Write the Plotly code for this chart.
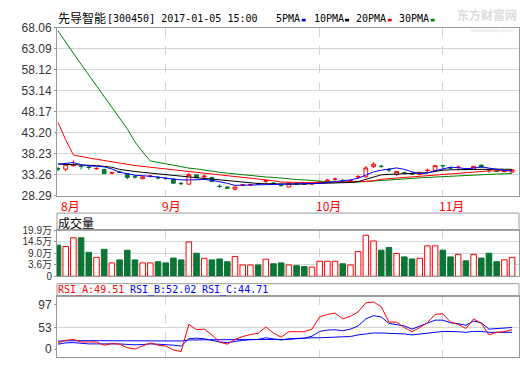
import pandas as pd
import plotly.graph_objects as go

# ---------------- data ----------------
holidays = ["2016-09-15", "2016-09-16", "2016-10-03", "2016-10-04",
            "2016-10-05", "2016-10-06", "2016-10-07"]
dates = [d for d in pd.bdate_range("2016-08-12", "2016-11-14").strftime("%Y-%m-%d")
         if d not in holidays]

opens = [34.66, 34.54, 35.37, 35.27, 35.03, 34.66, 34.46, 33.60, 33.90, 33.49,
         32.77, 32.28, 32.84, 32.55, 32.40, 32.21, 31.19, 31.00, 33.18, 32.73,
         32.58, 30.51, 30.32, 29.80, 30.72, 30.80, 31.11, 31.72, 31.26, 30.73,
         30.32, 31.10, 31.05, 31.05, 31.30, 31.53, 32.10, 31.87, 31.75, 32.69,
         32.73, 35.14, 35.26, 34.43, 33.26, 33.68, 33.45, 33.26, 34.20, 34.24,
         35.41, 34.88, 34.95, 34.60, 34.46, 35.52, 34.43, 34.13, 33.98, 33.86]
highs = [35.14, 35.80, 36.65, 35.52, 35.29, 34.99, 34.69, 33.94, 34.09, 33.56,
         33.11, 32.80, 33.18, 32.88, 32.65, 32.35, 31.53, 33.64, 33.34, 33.26,
         32.73, 31.00, 30.47, 30.40, 31.00, 31.07, 31.38, 32.13, 31.45, 31.00,
         31.30, 31.30, 31.20, 31.38, 31.68, 32.28, 32.58, 32.28, 32.05, 33.18,
         35.29, 36.20, 35.59, 34.84, 34.01, 34.01, 33.79, 33.86, 34.69, 35.59,
         35.59, 35.14, 35.37, 34.84, 35.29, 35.59, 34.62, 34.39, 34.24, 34.46]
lows = [34.09, 34.09, 35.14, 34.46, 34.39, 34.39, 33.49, 33.34, 33.64, 32.13,
        32.28, 32.21, 32.58, 32.13, 32.13, 31.15, 30.78, 30.85, 32.43, 32.28,
        31.53, 30.10, 29.95, 29.50, 30.55, 30.62, 30.85, 31.22, 31.00, 30.47,
        30.25, 30.85, 30.85, 30.78, 31.20, 31.38, 31.68, 31.38, 31.55, 32.28,
        32.58, 34.84, 34.84, 33.86, 32.96, 33.34, 33.18, 33.18, 33.79, 34.09,
        34.24, 34.54, 34.24, 34.24, 34.39, 34.99, 33.64, 33.86, 33.79, 33.71]
closes = [34.58, 35.74, 35.59, 35.17, 34.95, 34.72, 33.49, 33.68, 33.82, 32.58,
          32.69, 32.73, 32.92, 32.47, 32.32, 31.23, 31.11, 33.26, 32.51, 32.88,
          31.60, 30.43, 30.02, 30.32, 30.85, 30.88, 31.03, 31.80, 31.18, 30.65,
          31.23, 31.02, 30.98, 31.12, 31.55, 31.98, 32.18, 31.80, 31.83, 32.77,
          34.84, 35.74, 35.18, 34.35, 34.01, 33.60, 33.38, 33.79, 34.28, 35.37,
          35.33, 34.80, 35.03, 34.52, 35.22, 34.99, 34.35, 34.05, 34.05, 34.39]

ma5 = [35.74, 35.90, 36.10, 35.60, 35.30, 35.25, 35.10, 34.60, 33.80, 33.50,
       33.10, 33.00, 32.90, 32.70, 32.40, 32.20, 32.00, 32.00, 32.05, 32.10,
       31.90, 31.60, 31.20, 30.70, 30.75, 30.80, 30.85, 30.90, 30.95, 31.00,
       31.05, 31.05, 31.08, 31.10, 31.20, 31.40, 31.60, 31.80, 32.00, 32.40,
       33.20, 33.90, 34.30, 34.60, 34.84, 34.50, 33.90, 33.50, 33.60, 34.20,
       34.60, 35.00, 34.90, 34.65, 34.80, 35.10, 34.80, 34.45, 34.25, 34.10]
ma10 = [35.74, 35.70, 35.65, 35.60, 35.50, 35.40, 35.20, 35.00, 34.50, 34.20,
        34.00, 33.80, 33.60, 33.45, 33.30, 33.10, 32.90, 32.60, 32.45, 32.35,
        32.20, 32.00, 31.85, 31.60, 31.40, 31.25, 31.15, 31.10, 31.05, 31.00,
        31.00, 31.00, 31.05, 31.10, 31.15, 31.20, 31.30, 31.35, 31.40, 31.60,
        32.10, 32.70, 33.20, 33.30, 33.40, 33.45, 33.50, 33.60, 33.70, 34.00,
        34.30, 34.40, 34.45, 34.50, 34.52, 34.54, 34.55, 34.55, 34.54, 34.50]
ma20 = [45.60, 41.50, 37.90, 37.50, 37.20, 36.90, 36.60, 36.30, 35.90, 35.60,
        35.40, 35.20, 35.00, 34.80, 34.60, 34.40, 34.20, 34.10, 33.90, 33.70,
        33.50, 33.30, 33.10, 32.90, 32.70, 32.50, 32.30, 32.00, 31.80, 31.50,
        31.40, 31.38, 31.38, 31.38, 31.40, 31.42, 31.45, 31.50, 31.53, 31.55,
        31.65, 31.80, 32.15, 32.30, 32.45, 32.60, 32.75, 32.90, 33.05, 33.20,
        33.35, 33.50, 33.60, 33.75, 33.90, 34.05, 34.12, 34.18, 34.22, 34.25]
ma30 = [67.30, 64.50, 62.00, 59.40, 56.90, 54.30, 51.80, 49.20, 46.70, 44.10,
        41.00, 38.60, 36.50, 36.10, 35.80, 35.50, 35.10, 34.80, 34.60, 34.30,
        34.00, 33.80, 33.60, 33.40, 33.20, 33.10, 32.90, 32.70, 32.60, 32.40,
        32.30, 32.10, 32.00, 31.80, 31.70, 31.60, 31.50, 31.50, 31.45, 31.50,
        31.60, 31.70, 31.80, 31.90, 32.05, 32.20, 32.35, 32.50, 32.60, 32.75,
        32.85, 32.95, 33.05, 33.15, 33.20, 33.30, 33.35, 33.40, 33.45, 33.50]

volume_wan = [13.5, 12.9, 16.7, 16.7, 10.4, 8.2, 11.7, 5.8, 7.1, 11.3,
              7.1, 5.8, 5.8, 6.3, 5.8, 7.9, 7.1, 14.9, 10.0, 7.8,
              7.1, 7.5, 6.3, 8.6, 4.9, 4.9, 4.9, 7.4, 5.4, 5.8,
              4.9, 4.6, 4.2, 4.0, 6.5, 6.5, 6.5, 5.4, 4.9, 10.7,
              17.8, 15.3, 11.3, 12.5, 9.9, 8.4, 7.5, 7.8, 13.2, 13.2,
              11.3, 8.4, 9.5, 6.7, 9.5, 7.9, 10.0, 6.3, 7.1, 8.2]

rsi_a = [19.2, 24.2, 26.1, 21.1, 21.1, 21.1, 14.8, 17.9, 16.7, 9.8,
         7.3, 12.9, 19.2, 14.8, 12.9, 5.4, 2.2, 55.7, 45.0, 46.3,
         34.9, 21.1, 16.7, 26.1, 31.8, 35.6, 38.1, 50.6, 38.7, 30.5,
         41.2, 41.2, 41.2, 46.3, 70.2, 75.2, 77.7, 66.4, 71.4, 80.2,
         97.8, 99.6, 90.3, 60.1, 60.1, 49.4, 41.2, 49.4, 58.8, 75.2,
         76.4, 60.1, 55.7, 47.5, 66.4, 57.6, 34.9, 40.0, 41.2, 45.0]
rsi_b = [16.7, 19.2, 19.8, 17.9, 17.3, 17.3, 16.7, 17.3, 17.3, 16.1,
         15.4, 16.1, 17.3, 16.7, 16.1, 14.8, 12.9, 27.4, 28.6, 27.4,
         24.2, 21.1, 19.8, 22.3, 24.2, 25.5, 26.1, 29.3, 26.8, 24.9,
         27.4, 28.6, 28.6, 32.4, 41.8, 44.4, 45.0, 43.1, 46.3, 52.5,
         66.4, 72.7, 70.2, 57.6, 55.7, 52.5, 46.3, 52.5, 58.8, 63.9,
         63.9, 58.8, 56.9, 53.8, 62.0, 58.8, 46.3, 47.5, 48.1, 49.4]
rsi_c = [23.0, 23.6, 23.6, 23.6, 23.6, 23.6, 23.6, 23.6, 23.6, 23.6,
         23.6, 23.6, 23.6, 23.6, 23.6, 23.6, 23.0, 24.9, 25.5, 25.5,
         25.5, 25.5, 25.5, 25.5, 25.5, 25.5, 25.5, 26.1, 25.5, 25.5,
         26.1, 27.4, 28.6, 29.3, 29.3, 29.9, 29.9, 30.5, 31.8, 34.9,
         36.8, 38.7, 38.7, 38.1, 38.1, 36.8, 34.9, 36.2, 38.7, 40.0,
         41.8, 41.8, 41.2, 40.0, 41.8, 41.8, 40.0, 40.0, 40.0, 40.0]

price_ticks = [68.06, 63.09, 58.12, 53.14, 48.17, 43.20, 38.23, 33.26, 28.29]
price_tick_text = ["68.06", "63.09", "58.12", "53.14", "48.17", "43.20", "38.23", "33.26", "28.29"]
vol_max = 19.9
vol_tick_text = ["0", "3.6万", "9.0万", "14.5万", "19.9万"]   # drawn at quarter steps as in the source
rsi_tick_text = ["0", "53", "97"]                          # drawn at evenly spaced positions
rsi_tick_pos = [7.2, 49.4, 94.7]
rsi_header = [("RSI_A:49.51", "#ff0000"), ("RSI_B:52.02", "#0000ff"), ("RSI_C:44.71", "#0000ff")]
ma_legend = [("5PMA", "#0000ff"), ("10PMA", "#000000"), ("20PMA", "#ff0000"), ("30PMA", "#008000")]
title_name = "先导智能"
title_rest = "[300450] 2017-01-05 15:00"
vol_title = "成交量"

# ---------------- layout helpers ----------------
W, H = 520, 365
L, R = 57, 1
PW = W - L - R


def px(x):
    return (x - L) / PW


def py(y):
    return 1 - y / H


RED = "#ff0000"
GREEN = "#0a7535"
GRID = "#d4d4d4"
BORDER = "#9a9a9a"
MONO = "DejaVu Sans Mono"
CJK = "Noto Sans CJK SC"
SANS = "Liberation Sans, Arial, Noto Sans CJK SC"

x = list(range(len(dates)))
month_idx = [i for i in x if i == 0 or dates[i][:7] != dates[i - 1][:7]]
month_text = [f"{int(dates[i][5:7])}月" for i in month_idx]
up = [c >= o for o, c in zip(opens, closes)]
vol_ticks = [vol_max * k / 4 for k in range(5)]

fig = go.Figure()

# candles
fig.add_trace(go.Candlestick(
    x=x, open=opens, high=highs, low=lows, close=closes,
    increasing=dict(line=dict(color=RED, width=1), fillcolor="white"),
    decreasing=dict(line=dict(color=GREEN, width=1), fillcolor=GREEN),
    whiskerwidth=0, xaxis="x", yaxis="y", hoverinfo="skip", showlegend=False))

for vals, col in [(ma30, "#008000"), (ma20, "#ff0000"), (ma10, "#000000"), (ma5, "#0000ff")]:
    fig.add_trace(go.Scatter(x=x, y=vals, mode="lines", line=dict(color=col, width=1),
                             xaxis="x", yaxis="y", hoverinfo="skip", showlegend=False))

# volume
fig.add_trace(go.Bar(x=[i for i in x if not up[i]], y=[volume_wan[i] for i in x if not up[i]],
                     width=0.72, marker=dict(color=GREEN, line=dict(color=GREEN, width=1)),
                     xaxis="x2", yaxis="y2", hoverinfo="skip", showlegend=False))
fig.add_trace(go.Bar(x=[i for i in x if up[i]], y=[volume_wan[i] for i in x if up[i]],
                     width=0.72, marker=dict(color="white", line=dict(color=RED, width=1)),
                     xaxis="x2", yaxis="y2", hoverinfo="skip", showlegend=False))

# RSI
for vals, col in [(rsi_c, "#0000ff"), (rsi_b, "#0000ff"), (rsi_a, "#ff0000")]:
    fig.add_trace(go.Scatter(x=x, y=vals, mode="lines", line=dict(color=col, width=1),
                             xaxis="x3", yaxis="y3", hoverinfo="skip", showlegend=False))

xrange = [-0.13, 59.9]
xcommon = dict(range=xrange, showticklabels=False, ticks="", tickvals=month_idx,
               showgrid=True, gridcolor=GRID, griddash="dash", gridwidth=1,
               showline=True, linecolor=BORDER, mirror=True, zeroline=False, domain=[0, 1],
               fixedrange=True)
ycommon = dict(showline=True, linecolor=BORDER, mirror=True, zeroline=False,
               ticks="outside", ticklen=2, tickcolor=BORDER, fixedrange=True)

fig.update_layout(
    width=W, height=H, margin=dict(l=L, r=R, t=0, b=0),
    paper_bgcolor="white", plot_bgcolor="white", showlegend=False, barmode="overlay",
    xaxis=dict(**xcommon, anchor="y", rangeslider=dict(visible=False)),
    xaxis2=dict(**xcommon, anchor="y2", matches="x"),
    xaxis3=dict(**xcommon, anchor="y3", matches="x"),
    yaxis=dict(**ycommon, domain=[py(196.1), py(21.5)], range=[28.29, 68.06],
               tickvals=price_ticks, ticktext=price_tick_text, showgrid=True, gridcolor=GRID,
               tickfont=dict(family=SANS, size=12, color="#333333")),
    yaxis2=dict(**ycommon, domain=[py(280), py(232.3)], range=[0, vol_max],
                tickvals=vol_ticks, ticktext=vol_tick_text, showgrid=True, gridcolor=GRID,
                tickfont=dict(family=SANS, size=10, color="#333333")),
    yaxis3=dict(**ycommon, domain=[py(364), py(301)], range=[-8.5, 110.4],
                tickvals=rsi_tick_pos, ticktext=rsi_tick_text, showgrid=False,
                tickfont=dict(family=SANS, size=12, color="#333333")),
)

# RSI middle reference line
fig.add_shape(type="line", xref="x3 domain", yref="y3", x0=0, x1=1,
              y0=rsi_tick_pos[1], y1=rsi_tick_pos[1],
              line=dict(color=GRID, width=1), layer="below")

# header boxes
for y0, y1 in [(214.3, 232.3), (287.7, 301)]:
    fig.add_shape(type="rect", xref="paper", yref="paper", x0=0, x1=1, y0=py(y1), y1=py(y0),
                  line=dict(color=BORDER, width=1), fillcolor="rgba(0,0,0,0)")

ann = []
# title
ann.append(dict(text=title_name, x=px(57), y=py(11), font=dict(family=CJK, size=12, color="black")))
ann.append(dict(text=title_rest, x=px(106), y=py(11.5), font=dict(family=MONO, size=10, color="black")))
# MA legend
leg_x = [275, 313, 355, 398]
sq_x = [301.7, 345, 387.7, 430.7]
for (t, c), lx, sx in zip(ma_legend, leg_x, sq_x):
    ann.append(dict(text=t, x=px(lx), y=py(11.5), font=dict(family=MONO, size=10, color="black")))
    fig.add_shape(type="rect", xref="paper", yref="paper", x0=px(sx), x1=px(sx + 4),
                  y0=py(15), y1=py(12.3), line=dict(width=0), fillcolor=c)
# watermark
ann.append(dict(text="<b>东方财富网</b>", x=px(456), y=py(8), font=dict(family=CJK, size=12, color="#dcdcdc")))
ann.append(dict(text="eastmoney.com", x=px(470), y=py(24), font=dict(family=SANS, size=6, color="#dcdcdc")))
# volume title
ann.append(dict(text=vol_title, x=px(57), y=py(224), font=dict(family=CJK, size=12, color="black")))
# RSI header
for (t, c), hx in zip(rsi_header, [57.3, 129, 200.7]):
    ann.append(dict(text=t, x=px(hx), y=py(293.8), font=dict(family=MONO, size=10, color=c)))

for a in ann:
    a.update(xref="paper", yref="paper", xanchor="left", yanchor="middle", showarrow=False,
             borderpad=0)
    fig.add_annotation(**a)

# month labels
for i, t in zip(month_idx, month_text):
    fig.add_annotation(text=t, x=i, xref="x", y=py(206), yref="paper", xanchor="left",
                       yanchor="middle", xshift=2 if i == 0 else -5, showarrow=False,
                       borderpad=0, font=dict(family=CJK, size=12, color=RED))

fig.write_html("out.html", config={"displayModeBar": False, "staticPlot": True},
               post_script="document.body.style.margin='0';document.body.style.overflow='hidden';")
